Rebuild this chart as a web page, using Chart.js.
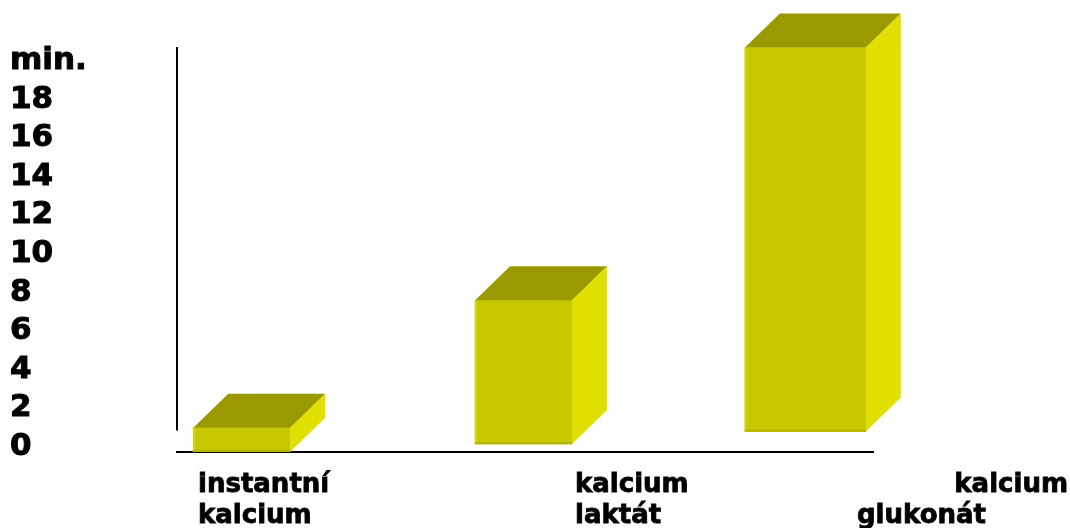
<!DOCTYPE html>
<html>
<head>
<meta charset="utf-8">
<script src="https://cdn.jsdelivr.net/npm/chart.js@4"></script>
<style>
  html, body { margin: 0; padding: 0; background: #fff; }
  #wrap { width: 1070px; height: 528px; }
</style>
</head>
<body>
<div id="wrap"><canvas id="chart"></canvas></div>
<script>
// data (minutes)
const categories = [['instantní', 'kalcium'], ['kalcium', 'laktát'], ['kalcium', 'glukonát']];
const values = [1.0, 7.6, 20.7];
const bases = [-0.25, 0.15, 0.8];
const yTicks = [0, 2, 4, 6, 8, 10, 12, 14, 16, 18, 20];
const yUnit = 'min.';

// look
const FONT = 'DejaVu Sans';
const FRONT = '#c8c800', TOP = '#9a9a00', SIDE = '#e0e000';
const DEPTH_X = 35, DEPTH_Y = 34;
const barWidths = [97, 97, 121];
// the vertical axis line stops a bit above the baseline in the original
const Y_LINE_END = 0.85;
// where each line of the category labels sits: [x, align]
const labelLayout = [
    [[198, 'left'], [198, 'left']],
    [[575, 'left'], [575, 'left']],
    [[1068, 'right'], [857, 'left']]
];

const bar3d = {
    id: 'bar3d',
    afterDatasetsDraw(chart) {
        const ctx = chart.ctx;
        ctx.save();
        chart.data.datasets.forEach((ds, i) => {
            chart.getDatasetMeta(i).data.forEach(el => {
                const p = el.getProps(['x', 'y', 'base', 'width'], true);
                const l = p.x - p.width / 2, r = p.x + p.width / 2;
                // top
                ctx.fillStyle = TOP;
                ctx.beginPath();
                ctx.moveTo(l, p.y);
                ctx.lineTo(l + DEPTH_X, p.y - DEPTH_Y);
                ctx.lineTo(r + DEPTH_X, p.y - DEPTH_Y);
                ctx.lineTo(r, p.y);
                ctx.closePath();
                ctx.fill();
                // side
                ctx.fillStyle = SIDE;
                ctx.beginPath();
                ctx.moveTo(r, p.y);
                ctx.lineTo(r + DEPTH_X, p.y - DEPTH_Y);
                ctx.lineTo(r + DEPTH_X, p.base - DEPTH_Y);
                ctx.lineTo(r, p.base);
                ctx.closePath();
                ctx.fill();
                // small edge shading on the front face
                ctx.fillStyle = '#d6d600';
                ctx.fillRect(l, p.y, 2, p.base - p.y);
                ctx.fillStyle = '#b4b400';
                ctx.fillRect(l, p.base - 2, p.width, 2);
            });
        });
        // vertical axis line
        const y = chart.scales.y, a = chart.chartArea;
        ctx.strokeStyle = '#000';
        ctx.lineWidth = 2;
        ctx.beginPath();
        ctx.moveTo(a.left, a.top);
        ctx.lineTo(a.left, y.getPixelForValue(Y_LINE_END));
        ctx.stroke();
        ctx.restore();
    }
};

const catLabels = {
    id: 'catLabels',
    afterDraw(chart) {
        const ctx = chart.ctx;
        ctx.save();
        ctx.fillStyle = '#000';
        ctx.strokeStyle = '#000';
        ctx.lineWidth = 0.8;
        ctx.font = 'bold 26px "' + FONT + '"';
        ctx.textBaseline = 'alphabetic';
        categories.forEach((lines, i) => {
            lines.forEach((txt, j) => {
                const [x, align] = labelLayout[i][j];
                ctx.textAlign = align;
                ctx.fillText(txt, x, 492 + j * 31);
                ctx.strokeText(txt, x, 492 + j * 31);
            });
        });
        ctx.restore();
    }
};

new Chart(document.getElementById('chart'), {
    type: 'bar',
    data: {
        datasets: values.map((v, i) => ({
            data: [{ x: i, y: [bases[i], v] }],
            backgroundColor: FRONT,
            borderWidth: 0,
            barThickness: barWidths[i],
            grouped: false
        }))
    },
    options: {
        responsive: true,
        maintainAspectRatio: false,
        animation: false,
        layout: { padding: { left: 10, top: 47, right: 197, bottom: 0 } },
        plugins: { legend: { display: false }, tooltip: { enabled: false } },
        scales: {
            x: {
                type: 'linear',
                offset: false,
                min: -0.23,
                max: 2.24,
                grid: { display: false, drawTicks: false },
                ticks: { display: false },
                border: { display: true, color: '#000', width: 2 },
                afterFit: s => { s.height = 76; }
            },
            y: {
                min: -0.26,
                max: 20.73,
                grid: { display: false, drawTicks: false },
                border: { display: false },
                afterBuildTicks: s => { s.ticks = yTicks.map(v => ({ value: v })); },
                ticks: {
                    crossAlign: 'far',
                    color: '#000',
                    textStrokeColor: '#000',
                    textStrokeWidth: 1,
                    font: { family: FONT, weight: 'bold', size: 31 },
                    callback: v => v === 20 ? yUnit : v
                },
                afterFit: s => { s.width = 167; }
            }
        }
    },
    plugins: [bar3d, catLabels]
});
</script>
</body>
</html>
